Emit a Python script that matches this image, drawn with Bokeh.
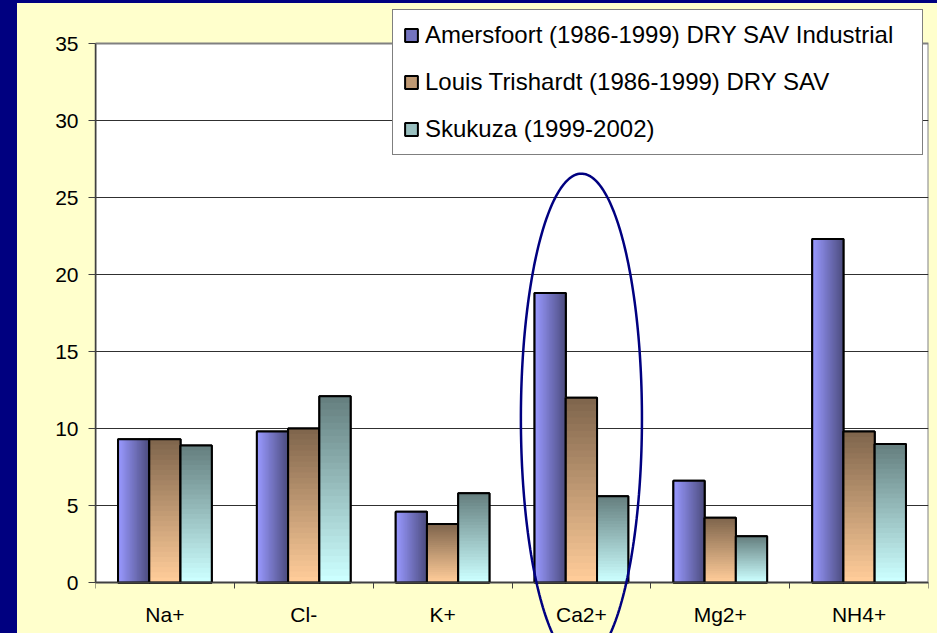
import numpy as np
from bokeh.plotting import figure
from bokeh.models import (FixedTicker, Legend, LegendItem, PolyAnnotation, BoxAnnotation,
                          GlobalInlineStyleSheet, Range1d, ColumnDataSource)
from bokeh.embed import file_html
from bokeh.resources import INLINE

# ---------------- data ----------------
categories = ["Na+", "Cl-", "K+", "Ca2+", "Mg2+", "NH4+"]
series_names = ["Amersfoort (1986-1999) DRY SAV Industrial",
                "Louis Trishardt (1986-1999) DRY SAV",
                "Skukuza (1999-2002)"]
amersfoort = [9.3, 9.8, 4.6, 18.8, 6.6, 22.3]
louis = [9.3, 10.0, 3.8, 12.0, 4.2, 9.8]
skukuza = [8.9, 12.1, 5.8, 5.6, 3.0, 9.0]
y_ticks = [0, 5, 10, 15, 20, 25, 30, 35]

# ---------------- styles ----------------
FONT = "Liberation Sans"
light_cols = [(0x99, 0x99, 0xFF), (0xFF, 0xCC, 0x99), (0xCC, 0xFF, 0xFF)]
dark_cols = [(0x4D, 0x4D, 0x80), (0x80, 0x66, 0x4D), (0x66, 0x80, 0x80)]
mid_cols = ["#7373BF", "#BF9973", "#99BFBF"]
gradient_dir = ["horizontal", "vertical", "vertical"]
bar_w = 0.225
offsets = [-bar_w, 0.0, bar_w]
N = 28

# frame spans the full figure height; 0..35 occupies fig y 579..40 (15.4 px / unit)
PX = 15.4
Y_LO, Y_HI = -51 / PX, 35 + 40 / PX


def lerp(c1, c2, t):
    return "#%02x%02x%02x" % tuple(int(round(a + (b - a) * t)) for a, b in zip(c1, c2))


p = figure(width=920, height=630, x_range=Range1d(-0.5, 5.5), y_range=Range1d(Y_LO, Y_HI),
           output_backend="svg", toolbar_location=None,
           min_border_left=78, min_border_right=9, min_border_top=0, min_border_bottom=0)
p.styles = {"margin-left": "17px", "margin-top": "3px"}
p.background_fill_color = "#FFFFCC"
p.border_fill_color = "#FFFFCC"
p.outline_line_color = None

# white plot area
p.add_layout(BoxAnnotation(left=-0.5, right=5.5, bottom=y_ticks[0], top=y_ticks[-1],
                           fill_color="white", fill_alpha=1.0, line_color="#808080",
                           line_alpha=1.0, line_width=2, level="image"))

# grid
p.xgrid.visible = False
p.ygrid.ticker = FixedTicker(ticks=y_ticks[1:-1])
p.ygrid.grid_line_color = "#303030"
p.ygrid.grid_line_width = 1

# y axis
p.yaxis.ticker = FixedTicker(ticks=y_ticks)
p.yaxis.bounds = (y_ticks[0], y_ticks[-1])
p.yaxis.axis_line_color = "#404040"
p.yaxis.axis_line_width = 1.5
p.yaxis.major_tick_line_color = "#404040"
p.yaxis.major_tick_out = 7
p.yaxis.major_tick_in = 0
p.yaxis.minor_tick_out = 0
p.yaxis.minor_tick_in = 0
p.yaxis.major_label_standoff = 10
p.yaxis.major_label_text_font = FONT
p.yaxis.major_label_text_font_size = "21px"
p.yaxis.major_label_text_color = "black"

# x axis (drawn at y = 0 inside the frame)
p.xaxis.fixed_location = 0
p.xaxis.ticker = FixedTicker(ticks=list(range(len(categories))),
                             minor_ticks=[i - 0.5 for i in range(len(categories) + 1)])
p.xaxis.major_label_overrides = {i: c for i, c in enumerate(categories)}
p.xaxis.axis_line_color = "#404040"
p.xaxis.axis_line_width = 1.5
p.xaxis.major_tick_out = 0
p.xaxis.major_tick_in = 0
p.xaxis.minor_tick_out = 6
p.xaxis.minor_tick_in = 0
p.xaxis.minor_tick_line_color = "#404040"
p.xaxis.major_label_standoff = 14
p.xaxis.major_label_text_font = FONT
p.xaxis.major_label_text_font_size = "21px"
p.xaxis.major_label_text_color = "black"

# ---------------- bars ----------------
legend_renderers = []
for s, vals in enumerate([amersfoort, louis, skukuza]):
    vals = np.asarray(vals, dtype=float)
    xc = np.arange(len(categories)) + offsets[s]
    left = xc - bar_w / 2
    right = xc + bar_w / 2
    base = p.quad(left=left, right=right, bottom=0, top=vals,
                  fill_color=mid_cols[s], line_color="black", line_width=2)
    legend_renderers.append(base)
    L, R, B, T, C = [], [], [], [], []
    for k in range(len(categories)):
        for i in range(N):
            t = i / (N - 1)
            if gradient_dir[s] == "horizontal":
                L.append(left[k] + bar_w * i / N); R.append(right[k])
                B.append(0.0); T.append(vals[k])
            else:
                L.append(left[k]); R.append(right[k])
                B.append(vals[k] * i / N); T.append(vals[k])
            C.append(lerp(light_cols[s], dark_cols[s], t))
    src = ColumnDataSource(dict(left=L, right=R, bottom=B, top=T, color=C))
    p.quad(left="left", right="right", bottom="bottom", top="top", fill_color="color",
           line_color=None, source=src)
    p.quad(left=left, right=right, bottom=0, top=vals, fill_alpha=0,
           line_color="black", line_width=2)

# ---------------- ellipse highlight around Ca2+ ----------------
theta = np.linspace(0, 2 * np.pi, 240)
ex = 3 + 0.436 * np.cos(theta)
ey = 10.65 + 15.9 * np.sin(theta)
p.add_layout(PolyAnnotation(xs=ex.tolist(), ys=ey.tolist(), xs_units="data", ys_units="data",
                            fill_alpha=0, line_color="#000080", line_alpha=1.0, line_width=2.5))

# ---------------- legend ----------------
legend = Legend(items=[LegendItem(label=n, renderers=[r]) for n, r in zip(series_names, legend_renderers)],
                location=(297, 478), margin=0, padding=10, spacing=17, label_height=30,
                glyph_height=16, glyph_width=16, label_standoff=6, label_width=487,
                background_fill_color="white", background_fill_alpha=1.0,
                border_line_color="black", border_line_width=1.5,
                label_text_font=FONT, label_text_font_size="24px", label_text_color="black")
p.add_layout(legend)

p.stylesheets = [GlobalInlineStyleSheet(css=(
    "html { background: linear-gradient(to right, #000080 17px, rgba(0,0,0,0) 17px), "
    "linear-gradient(to bottom, #000080 3px, #FFFFCC 3px); } "
    "body { background: transparent; }"))]

open("out.html", "w").write(file_html(p, INLINE))
